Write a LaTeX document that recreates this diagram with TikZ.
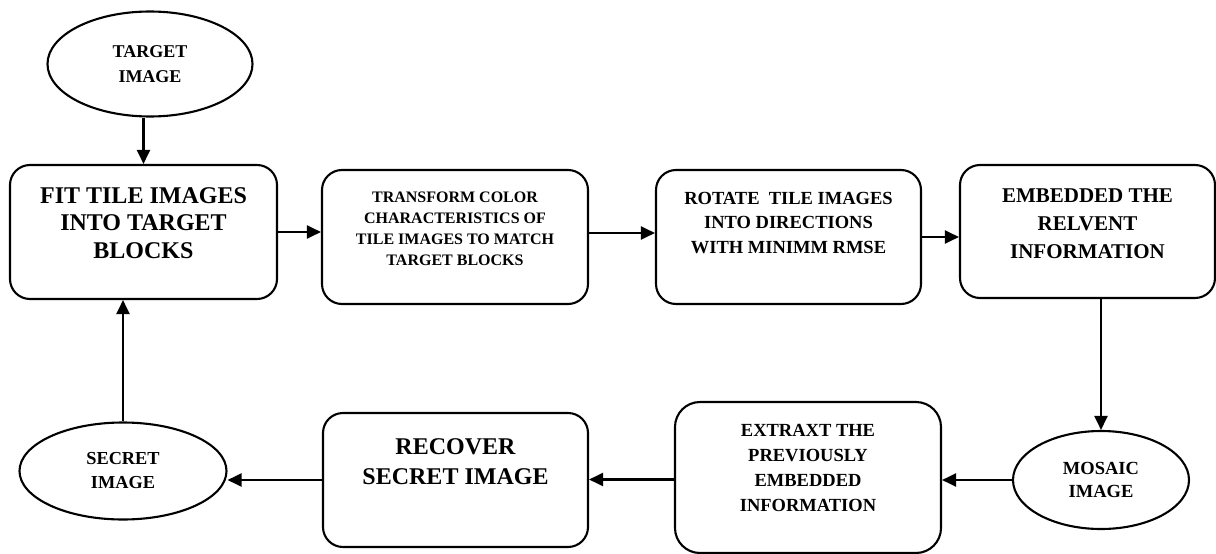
\documentclass[tikz,border=0pt]{standalone}
\usepackage{fontspec}
\setmainfont{Liberation Serif}
\usetikzlibrary{arrows.meta, shapes.geometric}

\begin{document}
\begin{tikzpicture}[->,>={Triangle[length=14pt,width=13pt]},x=1pt,y=-1pt,line width=2.1pt]
            \tikzset{stage/.style={draw, rectangle, rounded corners=20pt, align=center, inner sep=0pt},
                     terminal/.style={draw, ellipse, align=center, inner sep=0pt}}
            \useasboundingbox (0,0) rectangle (1216,554);
            % top row
            \node[terminal, minimum width=205pt, minimum height=105pt, font=\bfseries\fontsize{18}{25}\selectfont] (target) at (150,64) {TARGET\\IMAGE};
            \node[stage, minimum width=267pt, text height=93pt, text depth=41pt, font=\bfseries\fontsize{24}{27.5}\selectfont] (fit) at (143.5,232) {FIT TILE IMAGES\\INTO TARGET\\BLOCKS};
            \node[stage, minimum width=266pt, text height=95pt, text depth=39pt, font=\bfseries\fontsize{16}{21}\selectfont] (transform) at (455,237) {TRANSFORM COLOR\\CHARACTERISTICS OF\\TILE IMAGES TO MATCH\\TARGET BLOCKS};
            \node[stage, minimum width=265pt, text height=83pt, text depth=51pt, font=\bfseries\fontsize{18.5}{24.5}\selectfont] (rotate) at (788.5,237) {ROTATE\ \ TILE IMAGES\\INTO DIRECTIONS\\WITH MINIMM RMSE};
            \node[stage, minimum width=255pt, text height=93pt, text depth=40pt, font=\bfseries\fontsize{21}{28}\selectfont] (embed) at (1087.5,231.5) {EMBEDDED THE\\RELVENT\\INFORMATION};
            % bottom row
            \node[terminal, minimum width=176pt, minimum height=98pt, font=\bfseries\fontsize{18.5}{23}\selectfont] (mosaic) at (1101,480) {MOSAIC\\IMAGE};
            \node[stage, rounded corners=25pt, minimum width=266pt, text height=109pt, text depth=42pt, font=\bfseries\fontsize{18.5}{24.7}\selectfont] (extract) at (808,477.5) {EXTRAXT THE\\PREVIOUSLY\\EMBEDDED\\INFORMATION};
            \node[stage, minimum width=265pt, text height=71pt, text depth=63pt, font=\bfseries\fontsize{24}{30}\selectfont] (recover) at (455.5,480) {RECOVER\\SECRET IMAGE};
            \node[terminal, minimum width=207pt, minimum height=97pt, font=\bfseries\fontsize{18.3}{24}\selectfont] (secret) at (123,471) {SECRET\\IMAGE};
            % flow
            \path (target.south -| fit.north) edge (fit.north);
            \path (fit.east) edge (fit.east -| transform.west);
            \path ([yshift=4pt]transform.east) edge ([yshift=4pt]rotate.west);
            \path (rotate.east) edge (rotate.east -| embed.west);
            \path (mosaic.north |- embed.south) edge (mosaic.north);
            \path (mosaic.west) edge (mosaic.west -| extract.east);
            \path ([yshift=-2pt]extract.west) edge ([yshift=-2pt]extract.west -| recover.east);
            \path (recover.west) edge (recover.west -| secret.east);
            \path (secret.north) edge (secret.north |- fit.south);
        \end{tikzpicture}
\end{document}
